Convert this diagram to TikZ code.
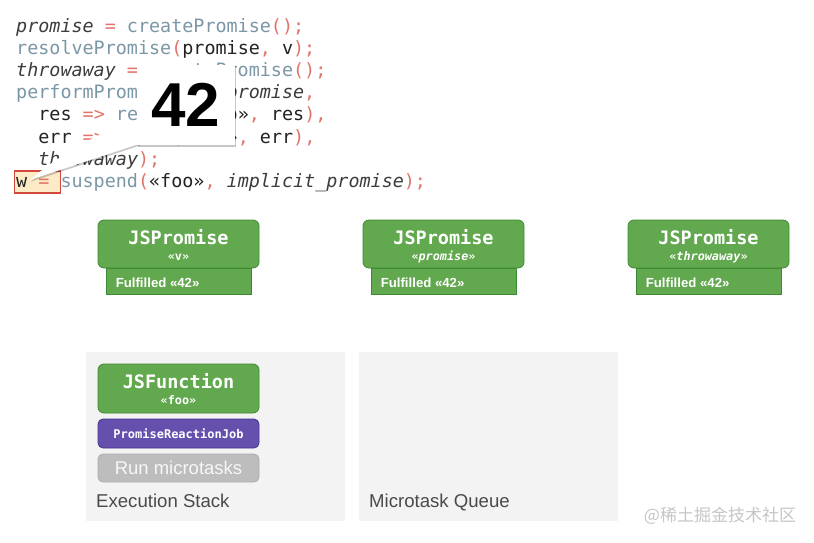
\documentclass[tikz,border=0pt]{standalone}
\usepackage{fontspec}
\setmainfont{Liberation Sans}
\setmonofont{DejaVu Sans Mono}
\newfontfamily\cjkfont{Noto Sans CJK SC}
\usetikzlibrary{calc,shadows}
\definecolor{cblack}{HTML}{222222}
\definecolor{citalic}{HTML}{3C3C3C}
\definecolor{cfun}{HTML}{7B97A6}
\definecolor{cred}{HTML}{E0736A}
\definecolor{gfill}{HTML}{62A84E}
\definecolor{gline}{HTML}{3E8A33}
\definecolor{pfill}{HTML}{6550AE}
\definecolor{pline}{HTML}{46358E}
\definecolor{rfill}{HTML}{BDBDBD}
\definecolor{rline}{HTML}{ABABAB}
\definecolor{panel}{HTML}{F3F3F3}
\definecolor{hlfill}{HTML}{FCEBC6}
\definecolor{hlline}{HTML}{D2493E}
\definecolor{labtext}{HTML}{4A4A4A}
\newcommand\kfun[1]{\textcolor{cfun}{#1}}
\newcommand\kred[1]{\textcolor{cred}{#1}}
\newcommand\kit[1]{\textcolor{citalic}{\itshape #1}}
\tikzset{
  code/.style={anchor=base west, inner sep=0pt, text=cblack,
    font=\ttfamily\fontsize{18.4}{22}\selectfont},
  gbox/.style={draw=gline, fill=gfill, line width=0.8pt, rounded corners=6pt,
    minimum width=161pt, minimum height=48pt, inner sep=0pt},
  subbox/.style={draw=gline, fill=gfill, line width=0.8pt,
    minimum width=145pt, minimum height=26pt, inner sep=0pt},
  gtitle/.style={anchor=base, inner sep=0pt, text=white,
    font=\ttfamily\bfseries\fontsize{18.5}{20}\selectfont},
  gsub/.style={anchor=base, inner sep=0pt, text=white,
    font=\ttfamily\bfseries\fontsize{11.8}{13}\selectfont},
  fultext/.style={anchor=base west, inner sep=0pt, text=white,
    font=\bfseries\fontsize{13.2}{15}\selectfont},
  panelbox/.style={fill=panel, draw=none, minimum width=259pt,
    minimum height=169pt, inner sep=0pt},
  panellabel/.style={anchor=base west, inner sep=0pt, text=labtext,
    font=\fontsize{18.6}{20}\selectfont},
  callshadow/.style={drop shadow={shadow xshift=1.2pt, shadow yshift=-1.5pt,
    opacity=0.22, fill=black}}
}
\begin{document}
\begin{tikzpicture}[x=1pt,y=-1pt]
\useasboundingbox[fill=white] (0,0) rectangle (814,543);

% highlight on w
\node[draw=hlline, fill=hlfill, line width=1.5pt, minimum width=46pt,
  minimum height=22pt, inner sep=0pt] (wbox) at (37.5,182) {};

% code
\node[code] (l1) at (16,33) {\kit{promise} \kred{=} \kfun{createPromise}\kred{();}};
\node[code] (l2) at (16,55) {\kfun{resolvePromise}\kred{(}promise\kred{,} v\kred{);}};
\node[code] (l3) at (16,77) {\kit{throwaway} \kred{=} \kfun{createPromise}\kred{();}};
\node[code] (l4) at (16,99) {\kfun{performPromiseThen}\kred{(}\kit{promise}\kred{,}};
\node[code] (l5) at (38.2,121) {res \kred{=>} \kfun{resume}\kred{(}«foo»\kred{,} res\kred{),}};
\node[code] (l6) at (38.2,143) {err \kred{=>} \kfun{throw}\kred{(}«foo»\kred{,} err\kred{),}};
\node[code] (l7) at (38.2,165) {\kit{throwaway}\kred{);}};
\node[code] (l8) at (16,187) {w \kred{=} \kfun{suspend}\kred{(}«foo»\kred{,} \kit{implicit\_promise}\kred{);}};

% callout 42
\node[fill=white, minimum width=98pt, minimum height=80pt, inner sep=0pt,
  callshadow, font=\bfseries\fontsize{62}{62}\selectfont, text=black] (n42)
  at (186,105) {42};
\coordinate (tip) at (30,180);
\coordinate (wa) at ($(n42.west)+(2,14)$);
\coordinate (wb) at ($(n42.west)+(2,39)$);
\fill[white, callshadow] (wa) .. controls (105,130) and (65,150) .. (tip) -- (wb) -- cycle;
\node[fill=white, minimum width=98pt, minimum height=80pt, inner sep=0pt,
  font=\bfseries\fontsize{62}{62}\selectfont, text=black] at (n42.center) {42};

% promises
\foreach \cx/\nm/\sub in {178.5/pv/{«v»}, 443.5/pp/{«\textit{promise}»}, 708.5/pt/{«\textit{throwaway}»}} {
  \node[subbox] (\nm s) at (\cx,281) {};
  \node[gbox] (\nm) at (\cx,244) {};
  \node[gtitle] at ($(\nm.north)+(0,25)$) {JSPromise};
  \node[gsub] at ($(\nm.north)+(0,40.5)$) {\sub};
  \node[fultext] at ($(\nm s.west)+(10,6)$) {Fulfilled «42»};
}

% panels
\node[panelbox] (stack) at (215.5,436.5) {};
\node[panelbox] (queue) at (488.5,436.5) {};
\node[panellabel] (stacklab) at (96,507) {Execution Stack};
\node[panellabel] (queuelab) at (369,507) {Microtask Queue};

% stack frames
\node[gbox, minimum height=49pt] (fn) at (178.5,388.5) {};
\node[gtitle] at ($(fn.north)+(0,25)$) {JSFunction};
\node[gsub] at ($(fn.north)+(0,40.5)$) {«foo»};
\node[draw=pline, fill=pfill, line width=0.8pt, rounded corners=5pt,
  minimum width=161pt, minimum height=29pt, inner sep=0pt, text=white,
  font=\ttfamily\bfseries\fontsize{12}{14}\selectfont] (job) at (178.5,433.5)
  {PromiseReactionJob};
\node[draw=rline, fill=rfill, line width=0.8pt, rounded corners=5pt,
  minimum width=161pt, minimum height=28pt, inner sep=0pt, text=white!94!gray,
  font=\fontsize{18.5}{20}\selectfont] (run) at (178.5,468) {Run microtasks};

% watermark
\node[inner sep=0pt, text=gray!45, font=\cjkfont\fontsize{17}{19}\selectfont]
  (wm) at (720,516) {@稀土掘金技术社区};
\end{tikzpicture}
\end{document}
